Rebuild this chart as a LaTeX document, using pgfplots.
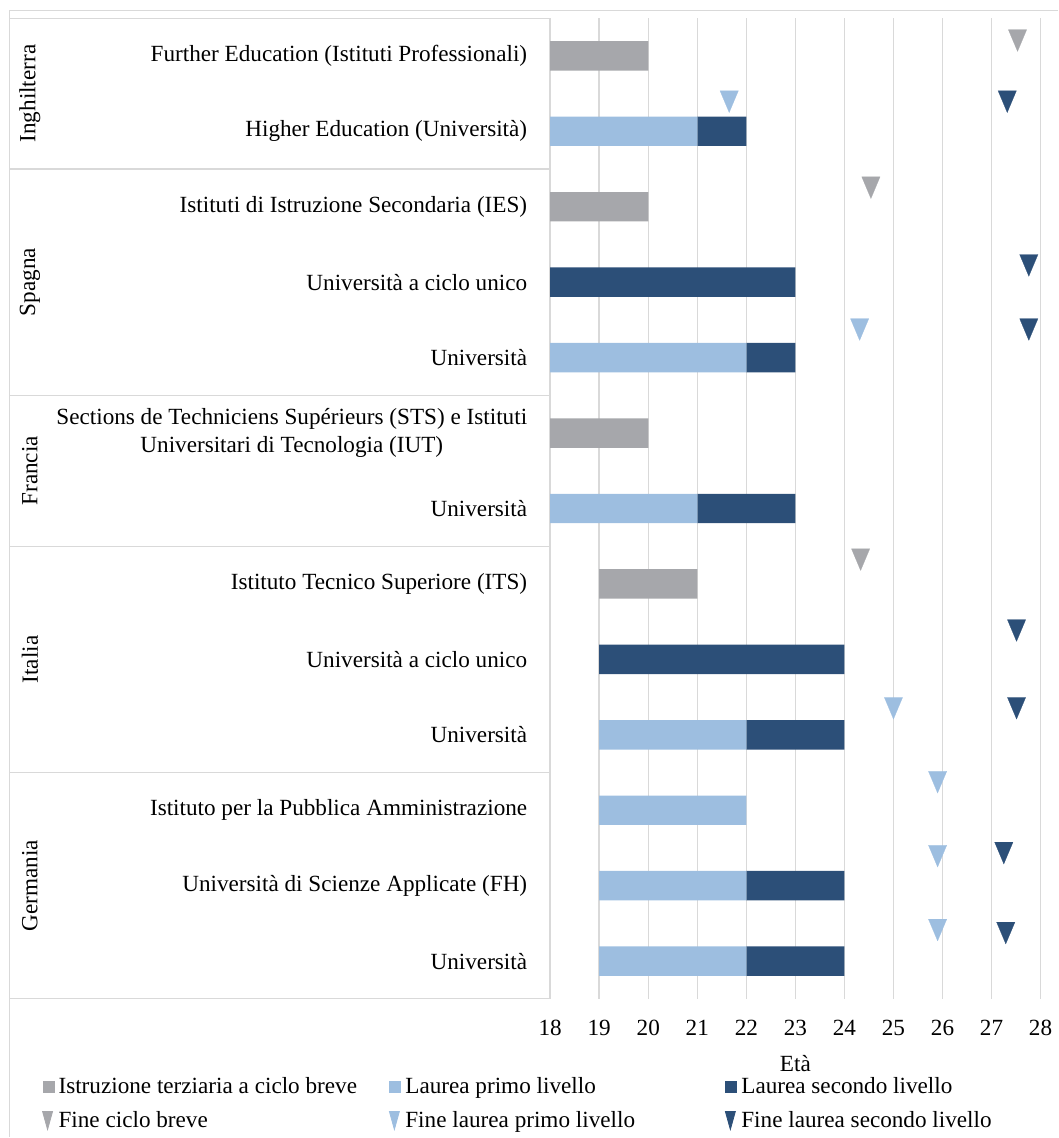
\documentclass[border=0pt]{standalone}
\usepackage{fontspec}
\setmainfont{Liberation Serif}
\usepackage{pgfplots}
\usepackage{pgfplotstable}
\pgfplotsset{compat=1.18}

\definecolor{cGray}{HTML}{A6A7AB}
\definecolor{cLight}{HTML}{9DBEE0}
\definecolor{cDark}{HTML}{2C4F78}
\definecolor{cLine}{HTML}{D9D9D9}
\newcommand\fs{\fontsize{11.6}{14}\selectfont}

% y = row (0 = bottom), start age, then segment lengths
\pgfplotstableread{
y start breve primo secondo
12 18 2 0 0
11 18 0 3 1
10 18 2 0 0
9  18 0 0 5
8  18 0 4 1
7  18 2 0 0
6  18 0 3 2
5  19 2 0 0
4  19 0 0 5
3  19 0 3 2
2  19 0 3 0
1  19 0 3 2
0  19 0 3 2
}\bars

% end markers: age, row position
\pgfplotstableread{
x y
27.53 12.25
24.54 10.30
24.33 5.37
}\finebreve
\pgfplotstableread{
x y
21.65 11.44
24.31 8.42
25.00 3.40
25.90 2.42
25.90 1.44
25.90 0.46
}\fineprimo
\pgfplotstableread{
x y
27.32 11.44
27.76 9.27
27.76 8.42
27.51 4.43
27.51 3.40
27.25 1.48
27.29 0.42
}\finesecondo

\pgfplotsset{base/.style={
  width=245.5pt, height=491pt, scale only axis,
  xmin=18, xmax=28, ymin=-0.5, ymax=12.5,
  clip=false,
}}

\begin{document}
\begin{tikzpicture}
\begin{axis}[base,
  xbar stacked, bar width=0.39,
  axis line style={draw=none},
  xtick={18,...,28}, major tick length=0,
  xmajorgrids, grid style={cLine, line width=0.75pt},
  ytick={0,...,12},
  yticklabels={Università, Università di Scienze Applicate (FH),
    Istituto per la Pubblica Amministrazione, Università,
    Università a ciclo unico, Istituto Tecnico Superiore (ITS), Università,
    {Sections de Techniciens Supérieurs (STS) e Istituti\\Universitari di Tecnologia (IUT)},
    Università, Università a ciclo unico, Istituti di Istruzione Secondaria (IES),
    Higher Education (Università), Further Education (Istituti Professionali)},
  yticklabel style={font=\fs, align=center, xshift=-8pt},
  xticklabel style={font=\fs, yshift=-7pt},
  /pgf/number format/assume math mode=true,
  xlabel={Età},
  every axis x label/.style={at={(axis description cs:0.5,-0.066)}, anchor=center, font=\fs},
  legend columns=3,
  legend cell align=left,
  legend style={draw=none, fill=none, font=\fs,
    at={(axis description cs:-1.049,-0.072)}, anchor=north west,
    row sep=3pt,
    /tikz/column 2/.style={column sep=14pt},
    /tikz/column 4/.style={column sep=43pt}},
]
\addplot[draw=none, fill=none, forget plot] table[x=start, y=y] {\bars};
\addplot[fill=cGray, draw=none,
  legend image code/.code={\fill[cGray] (0pt,-3pt) rectangle (6pt,3pt);}]
  table[x=breve, y=y] {\bars};
\addplot[fill=cLight, draw=none,
  legend image code/.code={\fill[cLight] (0pt,-3pt) rectangle (6pt,3pt);}]
  table[x=primo, y=y] {\bars};
\addplot[fill=cDark, draw=none,
  legend image code/.code={\fill[cDark] (0pt,-3pt) rectangle (6pt,3pt);}]
  table[x=secondo, y=y] {\bars};
\addlegendimage{legend image code/.code={\fill[cGray] (0pt,4.5pt) -- (5pt,4.5pt) -- (2.5pt,-4.5pt) -- cycle;}}
\addlegendimage{legend image code/.code={\fill[cLight] (0pt,4.5pt) -- (5pt,4.5pt) -- (2.5pt,-4.5pt) -- cycle;}}
\addlegendimage{legend image code/.code={\fill[cDark] (0pt,4.5pt) -- (5pt,4.5pt) -- (2.5pt,-4.5pt) -- cycle;}}
\legend{Istruzione terziaria a ciclo breve, Laurea primo livello, Laurea secondo livello,
  Fine ciclo breve, Fine laurea primo livello, Fine laurea secondo livello}

% frame and category table
\path (axis cs:6.78,12.74) rectangle (axis cs:28.35,-2.33);
\draw[cLine, line width=0.6pt] (axis cs:6.98,-2.33) -- (axis cs:6.98,12.606) -- (axis cs:28.35,12.606);
\draw[cLine, line width=0.6pt] (axis cs:6.98,-0.5) rectangle (axis cs:18,12.5);
\draw[cLine, line width=0.6pt] (axis cs:6.98,10.5) -- (axis cs:18,10.5);
\draw[cLine, line width=0.6pt] (axis cs:6.98,7.5) -- (axis cs:18,7.5);
\draw[cLine, line width=0.6pt] (axis cs:6.98,5.5) -- (axis cs:18,5.5);
\draw[cLine, line width=0.6pt] (axis cs:6.98,2.5) -- (axis cs:18,2.5);
\node[rotate=90, font=\fs] at (axis cs:7.39,11.5) {Inghilterra};
\node[rotate=90, font=\fs] at (axis cs:7.39,9) {Spagna};
\node[rotate=90, font=\fs] at (axis cs:7.39,6.5) {Francia};
\node[rotate=90, font=\fs] at (axis cs:7.39,4) {Italia};
\node[rotate=90, font=\fs] at (axis cs:7.39,1) {Germania};
\end{axis}

\begin{axis}[base, hide axis]
\addplot[only marks, mark=triangle*, mark size=5.3pt,
  mark options={rotate=180, yscale=1.37, fill=cGray, draw=cGray, line width=0.1pt}]
  table[x=x, y=y] {\finebreve};
\addplot[only marks, mark=triangle*, mark size=5.3pt,
  mark options={rotate=180, yscale=1.37, fill=cLight, draw=cLight, line width=0.1pt}]
  table[x=x, y=y] {\fineprimo};
\addplot[only marks, mark=triangle*, mark size=5.3pt,
  mark options={rotate=180, yscale=1.37, fill=cDark, draw=cDark, line width=0.1pt}]
  table[x=x, y=y] {\finesecondo};
\end{axis}
\end{tikzpicture}
\end{document}
